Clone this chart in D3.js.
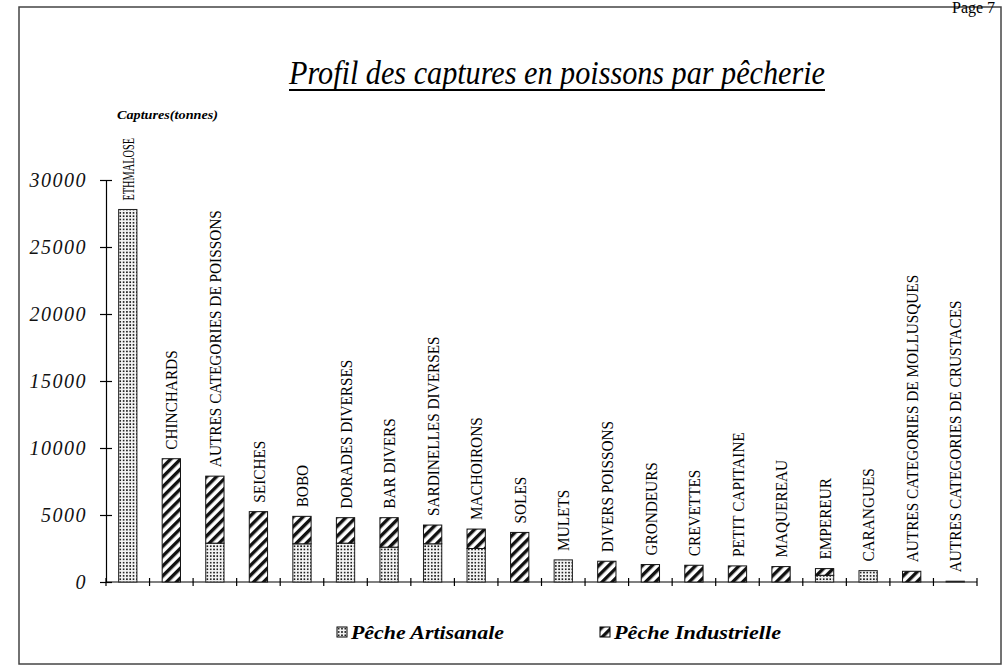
<!DOCTYPE html>
<html>
<head>
<meta charset="utf-8">
<script src="https://cdn.jsdelivr.net/npm/d3@7"></script>
<style>
  body { margin: 0; background: #fff; }
  svg { display: block; }
  .frame { fill: none; stroke: #444; stroke-width: 1.5; }
  .axis path, .axis line { stroke: #000; stroke-width: 1.2; }
  .ytick { font-family: "Liberation Serif", serif; font-style: italic; font-size: 20px; letter-spacing: 1.5px; }
  .label { font-family: "Liberation Serif", serif; font-size: 17px; }
  .legend { font-family: "Liberation Serif", serif; font-style: italic; font-weight: bold; font-size: 19px; }
</style>
</head>
<body>
<svg width="1008" height="666"></svg>
<script>
// data (tonnes)
const categories = [
  "ETHMALOSE", "CHINCHARDS", "AUTRES CATEGORIES DE POISSONS", "SEICHES", "BOBO",
  "DORADES DIVERSES", "BAR DIVERS", "SARDINELLES DIVERSES", "MACHOIRONS", "SOLES",
  "MULETS", "DIVERS POISSONS", "GRONDEURS", "CREVETTES", "PETIT CAPITAINE",
  "MAQUEREAU", "EMPEREUR", "CARANGUES", "AUTRES CATEGORIES DE MOLLUSQUES",
  "AUTRES CATEGORIES DE CRUSTACES"
];
const artisanale = [27800, 0, 2900, 0, 2850, 2900, 2600, 2850, 2500, 0, 1650, 0, 0, 0, 0, 0, 500, 850, 0, 60];
const industrielle = [0, 9200, 5000, 5250, 2050, 1900, 2200, 1400, 1450, 3700, 0, 1550, 1300, 1250, 1200, 1150, 500, 0, 800, 0];
const yTicks = [0, 5000, 10000, 15000, 20000, 25000, 30000];
const seriesNames = ["Pêche Artisanale", "Pêche Industrielle"];

const data = categories.map((c, i) => {
  return { name: c, art: artisanale[i], ind: industrielle[i] };
});

const svg = d3.select("svg");

// patterns
const defs = svg.append("defs");
const dots = defs
  .append("pattern")
  .attr("id", "dots")
  .attr("patternUnits", "userSpaceOnUse")
  .attr("width", 3.3)
  .attr("height", 3.3);
dots.append("rect").attr("width", 3.3).attr("height", 3.3).attr("fill", "#f4f4f4");
dots.append("rect").attr("x", 0.9).attr("y", 0.9).attr("width", 1.6).attr("height", 1.6).attr("fill", "#111");

const stripes = defs
  .append("pattern")
  .attr("id", "stripes")
  .attr("patternUnits", "userSpaceOnUse")
  .attr("width", 7)
  .attr("height", 7)
  .attr("patternTransform", "rotate(45)");
stripes.append("rect").attr("width", 7).attr("height", 7).attr("fill", "#fff");
stripes.append("rect").attr("width", 3.4).attr("height", 7).attr("fill", "#111");

// outer frame
svg.append("rect").attr("class", "frame").attr("x", 19).attr("y", 7).attr("width", 982).attr("height", 657);

// page number at the top corner
svg
  .append("text")
  .attr("x", 952)
  .attr("y", 13)
  .style("font-family", "Liberation Serif, serif")
  .style("font-size", "16px")
  .text("Page 7");

// title
svg
  .append("text")
  .attr("x", 289)
  .attr("y", 84)
  .attr("textLength", 536)
  .attr("lengthAdjust", "spacingAndGlyphs")
  .style("font-family", "Liberation Serif, serif")
  .style("font-style", "italic")
  .style("font-size", "33px")
  .text("Profil des captures en poissons par pêcherie");
svg.append("line").attr("x1", 289).attr("x2", 825).attr("y1", 90).attr("y2", 90).attr("stroke", "#000").attr("stroke-width", 2);

// y unit
svg
  .append("text")
  .attr("x", 117)
  .attr("y", 119)
  .attr("textLength", 101)
  .attr("lengthAdjust", "spacingAndGlyphs")
  .style("font-family", "Liberation Serif, serif")
  .style("font-style", "italic")
  .style("font-weight", "bold")
  .style("font-size", "13px")
  .text("Captures(tonnes)");

// scales
const x = d3.scaleBand().domain(categories).range([106, 977]).padding(0);
const y = d3.scaleLinear().domain([0, 30000]).range([582, 180]);
const barW = x.bandwidth() * 0.42;

// y axis with crossing ticks
const yAxis = svg
  .append("g")
  .attr("class", "axis")
  .attr("transform", "translate(106,0)")
  .call(d3.axisLeft(y).tickValues(yTicks).tickSize(6).tickSizeOuter(0).tickFormat(d3.format("d")));
yAxis.selectAll(".tick line").attr("x1", 6).attr("x2", -6);
yAxis
  .selectAll(".tick text")
  .attr("class", "ytick")
  .attr("x", -19)
  .attr("fill", "#111");

// x axis line and ticks at category boundaries
const xEdges = categories.map((c) => x(c)).concat([x.range()[1]]);
svg
  .append("line")
  .attr("x1", x.range()[0])
  .attr("x2", x.range()[1])
  .attr("y1", y(0))
  .attr("y2", y(0))
  .attr("stroke", "#000")
  .attr("stroke-width", 1.2);
svg
  .selectAll("line.xtick")
  .data(xEdges)
  .enter()
  .append("line")
  .attr("class", "xtick")
  .attr("x1", (d) => d)
  .attr("x2", (d) => d)
  .attr("y1", y(0) - 4)
  .attr("y2", y(0) + 4)
  .attr("stroke", "#000")
  .attr("stroke-width", 1.2);

// bar groups
const bars = svg
  .selectAll("g.bar")
  .data(data)
  .enter()
  .append("g")
  .attr("class", "bar")
  .attr("transform", (d) => `translate(${x(d.name) + (x.bandwidth() - barW) / 2},0)`);

// artisanal at the bottom
bars
  .filter((d) => d.art > 0)
  .append("rect")
  .attr("y", (d) => y(d.art))
  .attr("width", barW)
  .attr("height", (d) => y(0) - y(d.art))
  .attr("fill", "url(#dots)")
  .attr("stroke", "#222")
  .attr("stroke-width", 1);

// industrial stacked on top
bars
  .filter((d) => d.ind > 0)
  .append("rect")
  .attr("y", (d) => y(d.art + d.ind))
  .attr("width", barW)
  .attr("height", (d) => y(d.art) - y(d.art + d.ind))
  .attr("fill", "url(#stripes)")
  .attr("stroke", "#111")
  .attr("stroke-width", 1);

// vertical category labels above bars
const labelGap = 9;
const labelTop = 138;
bars
  .append("text")
  .attr("class", "label")
  .attr("transform", (d) => `translate(${barW / 2},${y(d.art + d.ind) - labelGap}) rotate(-90) scale(0.9,1)`)
  .attr("dy", "0.36em")
  .text((d) => d.name)
  // squeeze labels that would run into the unit text
  .each(function (d) {
    const room = (y(d.art + d.ind) - labelGap - labelTop) / 0.9;
    if (this.getComputedTextLength() > room) {
      d3.select(this).attr("textLength", room).attr("lengthAdjust", "spacingAndGlyphs");
    }
  });

// legend
const legend = svg
  .selectAll("g.legend")
  .data(seriesNames)
  .enter()
  .append("g")
  .attr("transform", (d, i) => `translate(${i === 0 ? 337 : 600},627)`);
legend
  .append("rect")
  .attr("width", 10)
  .attr("height", 10)
  .attr("fill", (d, i) => (i === 0 ? "url(#dots)" : "url(#stripes)"))
  .attr("stroke", "#000");
legend
  .append("text")
  .attr("class", "legend")
  .attr("x", 14)
  .attr("y", 12)
  .attr("textLength", (d, i) => (i === 0 ? 153 : 167))
  .attr("lengthAdjust", "spacingAndGlyphs")
  .text((d) => d);
</script>
</body>
</html>
